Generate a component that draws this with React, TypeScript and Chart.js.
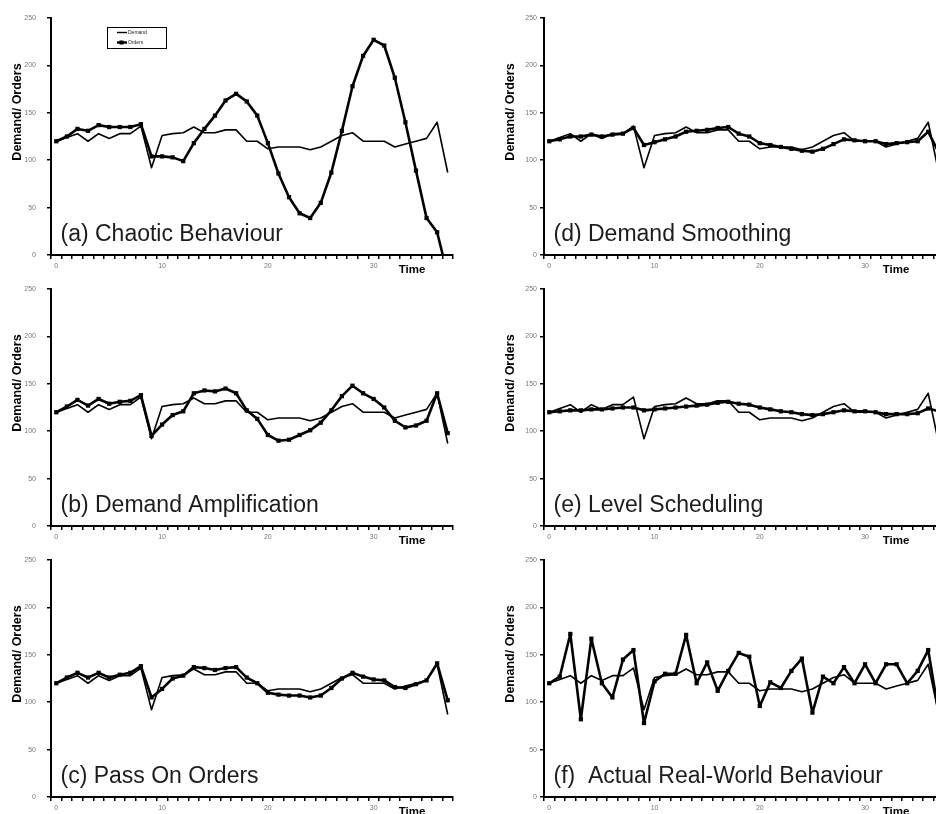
import React, { useEffect, useRef } from "react";
import { Chart, registerables } from "chart.js";

Chart.register(...registerables);

const FONT = "'Liberation Sans', Arial, Helvetica, sans-serif";

// ---------- data ----------
const TIME = [
  "0", "1", "2", "3", "4", "5", "6", "7", "8", "9",
  "10", "11", "12", "13", "14", "15", "16", "17", "18", "19",
  "20", "21", "22", "23", "24", "25", "26", "27", "28", "29",
  "30", "31", "32", "33", "34", "35", "36", "37",
];
const X_TICK_LABELS = ["0", "10", "20", "30"];
const Y_MIN = 0;
const Y_MAX = 250;
const Y_STEP = 50;
const SERIES_NAMES = ["Demand", "Orders"];
const Y_TITLE = "Demand/ Orders";
const X_TITLE = "Time";

const DEMAND = [
  120, 124, 128, 120, 128, 123, 128, 128, 136, 92,
  126, 128, 129, 135, 129, 129, 132, 132, 120, 120,
  112, 114, 114, 114, 111, 114, 120, 126, 129, 120,
  120, 120, 114, 117, 120, 123, 140, 87,
];

const ORDERS_A = [
  120, 125, 133, 131, 137, 135, 135, 135, 138, 104,
  104, 103, 99, 118, 133, 147, 163, 170, 162, 147,
  118, 86, 61, 44, 39, 55, 87, 131, 178, 210,
  227, 221, 187, 140, 89, 39, 24, -21,
];
const ORDERS_B = [
  120, 126, 133, 127, 134, 129, 131, 132, 138, 95,
  107, 117, 121, 140, 143, 142, 145, 140, 122, 113,
  96, 90, 91, 96, 101, 109, 122, 137, 148, 140,
  134, 125, 111, 104, 106, 111, 140, 98,
];
const ORDERS_C = [
  120, 126, 131, 126, 131, 126, 129, 131, 138, 105,
  114, 125, 128, 137, 136, 134, 136, 137, 126, 120,
  110, 108, 107, 107, 105, 107, 115, 125, 131, 127,
  124, 123, 116, 115, 119, 123, 141, 102,
];
const ORDERS_D = [
  120, 122, 125, 125, 127, 125, 127, 128, 134, 116,
  119, 122, 125, 130, 131, 132, 134, 135, 128, 125,
  118, 116, 114, 112, 110, 109, 112, 117, 122, 121,
  120, 120, 117, 118, 119, 120, 130, 108,
];
const ORDERS_E = [
  120, 121, 122, 122, 123, 123, 124, 125, 125, 122,
  123, 124, 125, 126, 127, 128, 130, 131, 129, 128,
  125, 123, 121, 120, 118, 117, 118, 120, 122, 121,
  121, 120, 118, 118, 118, 119, 124, 121,
];
const ORDERS_F = [
  120, 127, 172, 82, 167, 120, 105, 145, 155, 78,
  122, 130, 130, 171, 120, 142, 112, 133, 152, 148,
  96, 121, 115, 133, 146, 89, 127, 120, 137, 120,
  140, 120, 140, 140, 120, 133, 155, 88,
];

const PANEL_TITLES = [
  "(a) Chaotic Behaviour",
  "(b) Demand Amplification",
  "(c) Pass On Orders",
  "(d) Demand Smoothing",
  "(e) Level Scheduling",
  "(f)  Actual Real-World Behaviour",
];

// ---------- layout ----------
const ROW_TOP = [0, 271, 542];
const COL = [
  { left: 0, width: 468, axisWidth: 51, padRight: 15, yTickPad: 11, timeX: 361 },
  { left: 468, width: 480, axisWidth: 76, padRight: 2, yTickPad: 3, timeX: 352 },
];
const CANVAS_H = 300;

type PanelProps = {
  orders: number[];
  title: string;
  col: number;
  row: number;
  legend?: boolean;
};

function Panel({ orders, title, col, row, legend }: PanelProps) {
  const ref = useRef<HTMLCanvasElement | null>(null);
  const c = COL[col];

  useEffect(() => {
    if (!ref.current) return;
    const annotate = {
      id: "annotate",
      afterDraw(chart: any) {
        const { ctx, chartArea: ca } = chart;
        // y axis title
        ctx.save();
        ctx.fillStyle = "#000";
        ctx.font = `bold 12.5px ${FONT}`;
        ctx.textAlign = "center";
        ctx.textBaseline = "middle";
        ctx.translate(ca.left - 33, ca.top + 94);
        ctx.rotate(-Math.PI / 2);
        ctx.fillText(Y_TITLE, 0, 0);
        ctx.restore();

        // panel title
        ctx.save();
        ctx.fillStyle = "#1c1c1c";
        ctx.font = `23px ${FONT}`;
        ctx.textAlign = "left";
        ctx.textBaseline = "alphabetic";
        ctx.fillText(title, ca.left + 9.5, ca.bottom - 14);
        ctx.restore();

        // x axis title
        ctx.save();
        ctx.fillStyle = "#000";
        ctx.font = `bold 11.5px ${FONT}`;
        ctx.textAlign = "center";
        ctx.textBaseline = "alphabetic";
        ctx.fillText(X_TITLE, ca.left + c.timeX, ca.bottom + 18);
        ctx.restore();

        if (legend) {
          const bx = ca.left + 56;
          const by = ca.top + 9;
          ctx.save();
          ctx.strokeStyle = "#000";
          ctx.lineWidth = 1;
          ctx.fillStyle = "#fff";
          ctx.fillRect(bx, by, 59, 21);
          ctx.strokeRect(bx + 0.5, by + 0.5, 59, 21);
          // Demand
          ctx.beginPath();
          ctx.lineWidth = 1.4;
          ctx.moveTo(bx + 10, by + 5.5);
          ctx.lineTo(bx + 20, by + 5.5);
          ctx.stroke();
          // Orders
          ctx.beginPath();
          ctx.lineWidth = 2.4;
          ctx.moveTo(bx + 10, by + 15.5);
          ctx.lineTo(bx + 20, by + 15.5);
          ctx.stroke();
          ctx.fillStyle = "#000";
          ctx.fillRect(bx + 12.5, by + 13.5, 4, 4);
          ctx.font = `5px ${FONT}`;
          ctx.textAlign = "left";
          ctx.textBaseline = "middle";
          ctx.fillStyle = "#222";
          ctx.fillText(SERIES_NAMES[0], bx + 21, by + 5.5);
          ctx.fillText(SERIES_NAMES[1], bx + 21, by + 15.5);
          ctx.restore();
        }
      },
    };

    const chart = new Chart(ref.current, {
      type: "line",
      data: {
        labels: TIME,
        datasets: [
          {
            label: SERIES_NAMES[0],
            data: DEMAND,
            borderColor: "#000",
            borderWidth: 1.6,
            pointRadius: 0,
            tension: 0,
            borderJoinStyle: "round",
            clip: 0,
          },
          {
            label: SERIES_NAMES[1],
            data: orders,
            borderColor: "#000",
            borderWidth: 2.6,
            pointStyle: "rect",
            pointRadius: 3,
            pointBackgroundColor: "#000",
            pointBorderColor: "#000",
            pointBorderWidth: 0,
            tension: 0,
            borderJoinStyle: "round",
            clip: 0,
          },
        ],
      },
      options: {
        animation: false,
        responsive: false,
        maintainAspectRatio: false,
        events: [],
        layout: { padding: { top: 18, right: c.padRight, bottom: 0, left: 0 } },
        plugins: {
          legend: { display: false },
          tooltip: { enabled: false },
          title: { display: false },
        },
        scales: {
          x: {
            type: "category",
            offset: true,
            grid: {
              offset: true,
              drawOnChartArea: false,
              drawTicks: true,
              tickLength: 4,
              color: "#000",
              lineWidth: 1.5,
            },
            border: { display: true, color: "#000", width: 2 },
            ticks: {
              autoSkip: false,
              maxRotation: 0,
              minRotation: 0,
              padding: 3,
              color: "#777",
              font: { family: FONT, size: 7 },
              callback: (_v: any, i: number) =>
                X_TICK_LABELS.includes(TIME[i]) ? TIME[i] : "",
            },
            afterFit: (s: any) => {
              s.height = 45;
            },
          },
          y: {
            min: Y_MIN,
            max: Y_MAX,
            grid: {
              drawOnChartArea: false,
              drawTicks: true,
              tickLength: 4,
              color: "#000",
              lineWidth: 1.5,
            },
            border: { display: true, color: "#000", width: 2 },
            ticks: {
              stepSize: Y_STEP,
              padding: c.yTickPad,
              color: "#777",
              font: { family: FONT, size: 7 },
            },
            afterFit: (s: any) => {
              s.width = c.axisWidth;
            },
          },
        },
      },
      plugins: [annotate],
    } as any);
    return () => chart.destroy();
  }, [orders, title, col, row, legend]);

  return (
    <canvas
      ref={ref}
      width={c.width}
      height={CANVAS_H}
      style={{
        position: "absolute",
        left: c.left,
        top: ROW_TOP[row],
        width: c.width,
        height: CANVAS_H,
      }}
    />
  );
}

export default function App() {
  return (
    <div
      style={{
        position: "fixed",
        left: 0,
        top: 0,
        width: 936,
        height: 814,
        overflow: "hidden",
        background: "#fff",
      }}
    >
      <Panel orders={ORDERS_A} title={PANEL_TITLES[0]} col={0} row={0} legend />
      <Panel orders={ORDERS_B} title={PANEL_TITLES[1]} col={0} row={1} />
      <Panel orders={ORDERS_C} title={PANEL_TITLES[2]} col={0} row={2} />
      <Panel orders={ORDERS_D} title={PANEL_TITLES[3]} col={1} row={0} />
      <Panel orders={ORDERS_E} title={PANEL_TITLES[4]} col={1} row={1} />
      <Panel orders={ORDERS_F} title={PANEL_TITLES[5]} col={1} row={2} />
    </div>
  );
}
